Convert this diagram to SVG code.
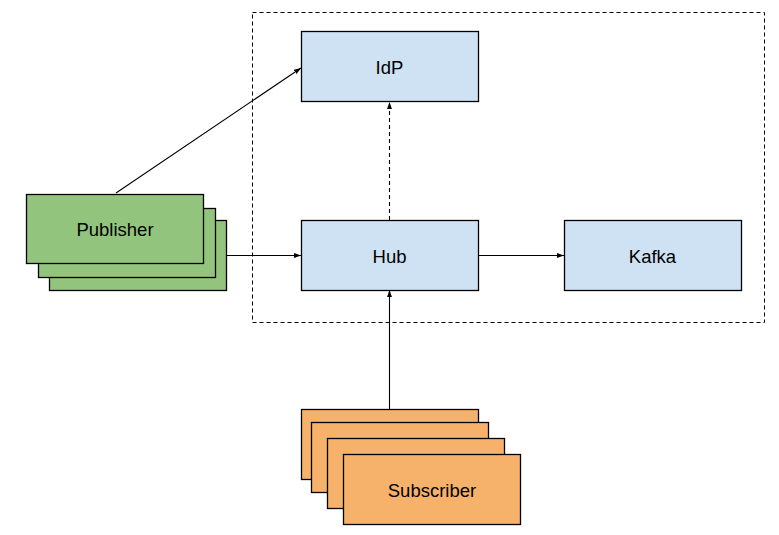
<svg xmlns="http://www.w3.org/2000/svg" width="779" height="535" viewBox="0 0 779 535">
<style>
.box{stroke:#000;stroke-width:1.3}
.blue{fill:#cfe2f3}
.green{fill:#93c47d}
.orange{fill:#f6b26b}
.lbl{font-family:"Liberation Sans",Arial,sans-serif;font-size:18.5px;fill:#000;text-anchor:middle;dominant-baseline:central}
.conn{stroke:#000;stroke-width:1.1;fill:none}
</style>
<defs>
<marker id="ah" viewBox="0 0 10 10" refX="10" refY="5" markerWidth="7" markerHeight="7" markerUnits="userSpaceOnUse" orient="auto">
<path d="M0,1.5 L10,5 L0,8.5 z" fill="#000"/>
</marker>
</defs>
<rect x="252.5" y="12.5" width="512" height="310" fill="none" stroke="#000" stroke-width="1" stroke-dasharray="4,3"/>
<g id="connectors">
<line class="conn" x1="116" y1="193" x2="301" y2="68" marker-end="url(#ah)"/>
<line class="conn" x1="226" y1="255.5" x2="301" y2="255.5" marker-end="url(#ah)"/>
<line class="conn" x1="389.5" y1="220" x2="389.5" y2="102" stroke-dasharray="4,3" marker-end="url(#ah)"/>
<line class="conn" x1="478" y1="255.5" x2="564" y2="255.5" marker-end="url(#ah)"/>
<line class="conn" x1="389.5" y1="409" x2="389.5" y2="290" marker-end="url(#ah)"/>
</g>
<g id="idp">
<rect class="box blue" x="301.5" y="31.5" width="177" height="70"/>
<text class="lbl" x="389.5" y="67">IdP</text>
</g>
<g id="hub">
<rect class="box blue" x="301.5" y="220.5" width="177" height="70"/>
<text class="lbl" x="389.5" y="256">Hub</text>
</g>
<g id="kafka">
<rect class="box blue" x="564.5" y="220.5" width="177" height="70"/>
<text class="lbl" x="652.5" y="256">Kafka</text>
</g>
<g id="publisher">
<rect class="box green" x="49.5" y="220.5" width="177" height="70"/>
<rect class="box green" x="38.5" y="208.5" width="177" height="69"/>
<rect class="box green" x="26.5" y="194.5" width="177" height="69"/>
<text class="lbl" x="115" y="229">Publisher</text>
</g>
<g id="subscriber">
<rect class="box orange" x="301.5" y="409.5" width="177" height="70"/>
<rect class="box orange" x="311.5" y="422.5" width="177" height="70"/>
<rect class="box orange" x="327.5" y="438.5" width="177" height="70"/>
<rect class="box orange" x="343.5" y="454.5" width="177" height="70"/>
<text class="lbl" x="432" y="490">Subscriber</text>
</g>
</svg>
